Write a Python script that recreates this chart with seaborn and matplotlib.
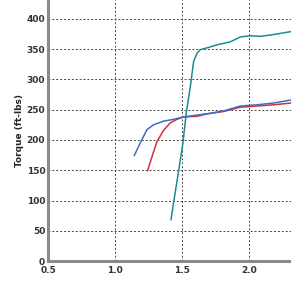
import numpy as np
import pandas as pd
import matplotlib
matplotlib.use('Agg')
import matplotlib.pyplot as plt
import seaborn as sns
from matplotlib.ticker import MultipleLocator

# values (boost / torque)
teal_x = [1.416, 1.435, 1.473, 1.505, 1.53, 1.56, 1.585, 1.61, 1.634, 1.70, 1.759, 1.858, 1.933, 2.007, 2.082, 2.181, 2.313]
teal_y = [68, 96, 149, 195, 245, 288, 330, 343, 349, 353, 357, 362, 370, 372, 371, 374, 379]

red_x = [1.241, 1.274, 1.311, 1.361, 1.41, 1.46, 1.51, 1.61, 1.684, 1.808, 1.933, 2.057, 2.181, 2.313]
red_y = [149, 172, 197, 216, 228, 234, 238, 239, 243, 247, 254, 256, 258, 261]

blue_x = [1.142, 1.187, 1.237, 1.286, 1.36, 1.435, 1.51, 1.61, 1.709, 1.808, 1.933, 2.057, 2.181, 2.313]
blue_y = [174, 195, 217, 225, 231, 234, 238, 241, 244, 248, 256, 258, 261, 266]

df = pd.concat([
    pd.DataFrame({'x': teal_x, 'y': teal_y, 'run': 'teal'}),
    pd.DataFrame({'x': red_x, 'y': red_y, 'run': 'red'}),
    pd.DataFrame({'x': blue_x, 'y': blue_y, 'run': 'blue'}),
])

sns.set_style('white')
plt.rcParams['font.family'] = ['DejaVu Sans']

fig = plt.figure(figsize=(2.91, 2.86), dpi=100)
ax = fig.add_axes([0.165, 0.087, 0.835, 0.913])

pal = {'teal': '#1e8c8c', 'red': '#d0303c', 'blue': '#3a6ec8'}
sns.lineplot(data=df, x='x', y='y', hue='run', palette=pal, sort=False,
             estimator=None, linewidth=1.1, legend=False, ax=ax)

ax.set_xlim(0.5, 2.31)
ax.set_ylim(0, 431)
ax.xaxis.set_major_locator(MultipleLocator(0.5))
ax.xaxis.set_minor_locator(MultipleLocator(0.1))
ax.yaxis.set_major_locator(MultipleLocator(50))
ax.yaxis.set_minor_locator(MultipleLocator(12.5))

ax.grid(True, which='major', color='#444444', linestyle=(0, (2, 2)), linewidth=0.7)
for s in ['top', 'right']:
    ax.spines[s].set_visible(False)
for s in ['left', 'bottom']:
    ax.spines[s].set_color('#8a8a8a')
    ax.spines[s].set_linewidth(2.2)

ax.tick_params(axis='both', which='both', direction='in', color='#555555')
ax.tick_params(axis='both', which='major', length=3, width=0.8, labelsize=6.5, pad=2)
ax.tick_params(axis='x', which='major', pad=3.5)
ax.tick_params(axis='both', which='minor', length=2, width=0.6)
for lab in ax.get_xticklabels() + ax.get_yticklabels():
    lab.set_fontweight('bold')
    lab.set_color('#333333')

ax.set_xlabel('')
ax.set_ylabel('Torque (ft-lbs)', fontsize=6.5, fontweight='bold', labelpad=2)

fig.savefig('out.png', dpi=100)
